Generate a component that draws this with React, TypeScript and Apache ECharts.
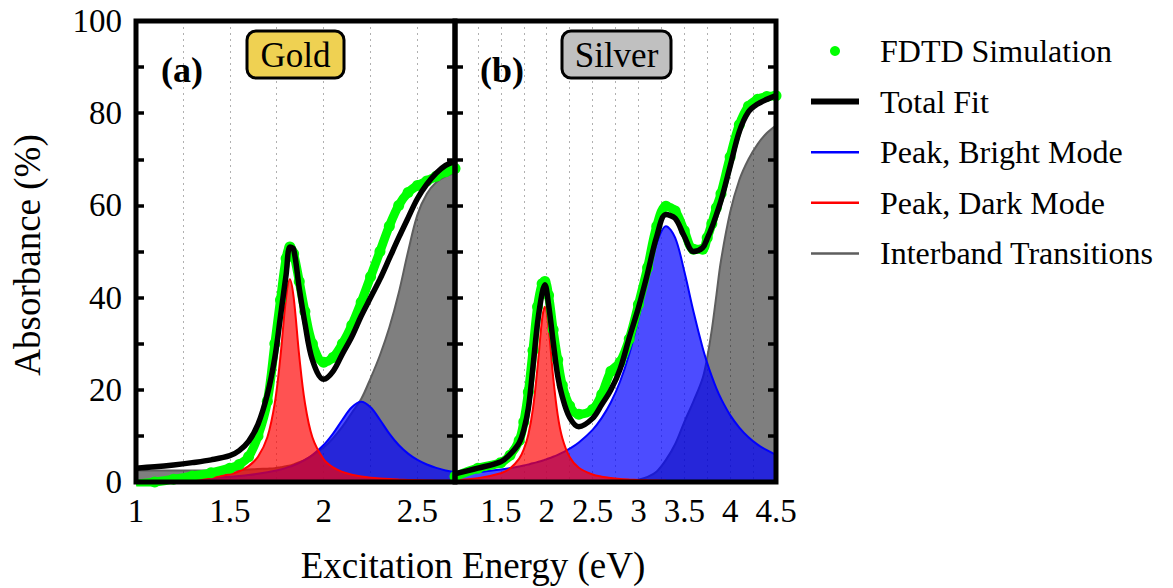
import React, { useEffect, useRef } from 'react';
import * as echarts from 'echarts';

// ---------- Panel (a): Gold ----------
const xA = [1.0, 1.1, 1.2, 1.3, 1.4, 1.5, 1.55, 1.6, 1.65, 1.7, 1.74, 1.77, 1.8, 1.82, 1.84, 1.87, 1.9, 1.94, 2.0, 2.05, 2.1, 2.15, 2.2, 2.25, 2.3, 2.35, 2.4, 2.45, 2.5, 2.55, 2.6, 2.65, 2.7];
const fdtdA = [-0.5, 0.0, 0.6, 1.3, 2.0, 3.0, 3.8, 5.5, 10, 17.5, 30, 39.5, 48.5, 51, 49.5, 43.5, 37, 30, 26, 27, 30, 34, 39, 44.5, 50, 55.5, 60, 62.8, 64.3, 65.3, 66.3, 67.3, 68];
const fitA = [3.0, 3.3, 3.7, 4.2, 4.8, 5.7, 6.8, 8.8, 12.5, 19, 27, 36, 45, 51, 50.5, 42, 34.5, 26.5, 22.3, 24, 27.8, 31.5, 36, 40, 44, 48.5, 53, 57.3, 61.5, 64.6, 67, 68.7, 69.5];
const brightA = [0.40, 0.48, 0.58, 0.70, 0.88, 1.14, 1.31, 1.51, 1.77, 2.10, 2.42, 2.72, 3.07, 3.33, 3.63, 4.16, 4.79, 5.85, 8.02, 10.5, 13.5, 16.2, 17.4, 16.2, 13.5, 10.5, 8.02, 6.16, 4.79, 3.80, 3.07, 2.51, 2.10];
const darkA = [0.27, 0.35, 0.46, 0.66, 1.0, 1.69, 2.34, 3.44, 5.46, 9.7, 17.2, 27.3, 40.1, 44, 40.1, 27.3, 17.2, 9.7, 4.94, 3.16, 2.19, 1.59, 1.21, 0.95, 0.77, 0.63, 0.53, 0.45, 0.39, 0.34, 0.29, 0.26, 0.23];
const interA = [2.5, 2.5, 2.5, 2.5, 2.5, 2.6, 2.6, 2.7, 2.8, 2.9, 3.0, 3.2, 3.4, 3.6, 3.8, 4.3, 4.8, 5.8, 7.5, 9.5, 12, 15, 18, 22.5, 27.5, 33.5, 41, 50, 58, 62.5, 65, 66.3, 67];

// ---------- Panel (b): Silver ----------
const xB = [1.0, 1.25, 1.5, 1.6, 1.7, 1.75, 1.8, 1.85, 1.9, 1.95, 1.98, 2.02, 2.07, 2.12, 2.17, 2.25, 2.35, 2.5, 2.6, 2.7, 2.8, 2.9, 3.0, 3.1, 3.2, 3.3, 3.4, 3.5, 3.6, 3.7, 3.75, 3.8, 3.85, 3.9, 4.0, 4.1, 4.2, 4.3, 4.4, 4.5];
const fdtdB = [1.2, 3.0, 4.2, 5.8, 9, 13, 19.5, 28.5, 38, 43, 43.5, 40.5, 33, 26.5, 21, 16.5, 14.7, 15.7, 19, 24, 26, 31, 38.5, 46.5, 55.5, 59.8, 58.8, 54.5, 50.5, 50.5, 53, 56, 59.5, 62.5, 70.5, 77.5, 81.5, 83, 83.6, 83.8];
const fitB = [1.8, 3.0, 4.4, 6.0, 8.5, 11.3, 16, 25, 34.5, 41, 42.8, 38.5, 30.5, 23, 18.5, 14, 12, 13.8, 16.8, 20, 24.5, 31.3, 37.8, 45.3, 53.3, 58, 57.2, 53.3, 50, 50.8, 52.8, 55.2, 58, 61, 68.5, 76, 80.3, 82, 83, 83.8];
const brightB = [1.70, 2.12, 2.71, 3.02, 3.38, 3.58, 3.81, 4.05, 4.33, 4.62, 4.82, 5.09, 5.47, 5.89, 6.36, 7.22, 8.56, 11.3, 13.9, 17.3, 21.8, 27.75, 35.3, 44.0, 51.8, 55.5, 53.0, 45.7, 37.0, 29.1, 25.8, 22.9, 20.3, 18.1, 14.5, 11.8, 9.7, 8.1, 6.9, 5.9];
const darkB = [0.47, 0.84, 1.90, 2.94, 5.08, 7.07, 10.3, 15.9, 24.9, 35.4, 38, 33.6, 22.8, 14.5, 9.54, 5.41, 3.09, 1.63, 1.16, 0.87, 0.67, 0.54, 0.44, 0.36, 0.31, 0.26, 0.23, 0.2, 0.18, 0.16, 0.15, 0.14, 0.135, 0.13, 0.11, 0.1, 0.09, 0.08, 0.08, 0.07];
const interB = [0, 0, 0, 0, 0, 0, 0, 0, 0, 0, 0, 0, 0, 0, 0, 0, 0, 0, 0, 0.05, 0.1, 0.2, 0.5, 1.1, 2.3, 4.8, 8.2, 13, 17.5, 22.5, 27, 33, 40.5, 48, 58.5, 65.5, 70, 73.3, 75.7, 77.3];

// ---------- Tick labels / names ----------
const xLabelsA = [1, 1.5, 2, 2.5];
const xLabelsB = [1.5, 2, 2.5, 3, 3.5, 4, 4.5];
const yLabels = [0, 20, 40, 60, 80, 100];
const seriesNames = ['FDTD Simulation', 'Total Fit', 'Peak, Bright Mode', 'Peak, Dark Mode', 'Interband Transitions'];

const FONT = 'Liberation Serif';
const G1 = { left: 136, top: 21, width: 319, height: 461 };
const G2 = { left: 455, top: 21, width: 321, height: 461 };

// legend line icons: a bar centred in a 48x10 box (tiny corner specks fix the box)
const lineIcon = (h: number) => {
  const a = (10 - h) / 2;
  const b = a + h;
  return `path://M0,0L0.01,0L0.01,0.01Z M0,${a}L48,${a}L48,${b}L0,${b}Z M47.99,9.99L48,9.99L48,10Z`;
};

const pairs = (xs: number[], ys: number[]) => xs.map((x, i) => [x, ys[i]]);
const inList = (list: number[], v: number) => list.some((t) => Math.abs(t - v) < 1e-6);

function panelSeries(gi: number, xs: number[], fd: number[], fit: number[], br: number[], dk: number[], it: number[]) {
  const common = { type: 'line', xAxisIndex: gi, yAxisIndex: gi * 2, smooth: 0.35, symbol: 'none' };
  return [
    { ...common, name: seriesNames[4], data: pairs(xs, it), z: 2, lineStyle: { color: '#5e5e5e', width: 2 }, itemStyle: { color: '#5e5e5e' }, areaStyle: { color: '#000000', opacity: 0.5 } },
    { ...common, name: seriesNames[2], data: pairs(xs, br), z: 3, lineStyle: { color: '#0000ff', width: 2 }, itemStyle: { color: '#0000ff' }, areaStyle: { color: '#0000ff', opacity: 0.7 } },
    { ...common, name: seriesNames[3], data: pairs(xs, dk), z: 4, lineStyle: { color: '#ff0000', width: 2 }, itemStyle: { color: '#ff0000' }, areaStyle: { color: '#ff0000', opacity: 0.68 } },
    { ...common, name: seriesNames[0], data: pairs(xs, fd), z: 5, symbol: 'circle', symbolSize: 11, showSymbol: true, lineStyle: { color: '#00ff00', width: 9 }, itemStyle: { color: '#00ff00' } },
    { ...common, name: seriesNames[1], data: pairs(xs, fit), z: 6, lineStyle: { color: '#000000', width: 5.5 }, itemStyle: { color: '#000000' } },
  ];
}

function xAxisFor(gi: number, max: number, labels: number[]) {
  return {
    type: 'value', gridIndex: gi, min: 1, max, interval: 0.25,
    axisLine: { show: false }, axisTick: { show: false },
    splitLine: { show: true, lineStyle: { color: '#b0b0b0', width: 1, type: [2, 4] } },
    axisLabel: {
      margin: 12, fontSize: 33, fontFamily: FONT, color: '#000',
      formatter: (v: number) => (inList(labels, v) ? String(v) : ''),
    },
  };
}

function yAxisFor(gi: number, position: string, showLabels: boolean) {
  return {
    type: 'value', gridIndex: gi, position, min: 0, max: 100, interval: 10,
    axisLine: { show: false },
    axisTick: { show: true, inside: true, length: 8, lineStyle: { color: '#000', width: 3.5 } },
    splitLine: { show: false },
    axisLabel: {
      show: showLabels, margin: 14, fontSize: 33, fontFamily: FONT, color: '#000',
      formatter: (v: number) => (inList(yLabels, v) ? String(v) : ''),
    },
  };
}

export default function App() {
  const ref = useRef<HTMLDivElement>(null);
  useEffect(() => {
    if (!ref.current) return;
    const chart = echarts.init(ref.current, null, { renderer: 'svg' });
    const option: any = {
      animation: false,
      backgroundColor: '#ffffff',
      textStyle: { fontFamily: FONT },
      grid: [
        { ...G1, containLabel: false },
        { ...G2, containLabel: false },
      ],
      xAxis: [xAxisFor(0, 2.7, xLabelsA), xAxisFor(1, 4.5, xLabelsB)],
      yAxis: [yAxisFor(0, 'left', true), yAxisFor(0, 'right', false), yAxisFor(1, 'left', false), yAxisFor(1, 'right', false)],
      legend: {
        orient: 'vertical', left: 806, top: 30, itemWidth: 48, itemHeight: 10, itemGap: 18.6,
        selectedMode: false,
        textStyle: { fontSize: 32, fontFamily: FONT, color: '#000', padding: [0, 0, 0, 16] },
        data: [
          { name: seriesNames[0], icon: 'circle' },
          { name: seriesNames[1], icon: lineIcon(6), itemStyle: { color: '#000000' } },
          { name: seriesNames[2], icon: lineIcon(2.5), itemStyle: { color: '#0000ff' } },
          { name: seriesNames[3], icon: lineIcon(2.5), itemStyle: { color: '#ff0000' } },
          { name: seriesNames[4], icon: lineIcon(2.5), itemStyle: { color: '#5e5e5e' } },
        ],
      },
      series: [
        ...panelSeries(0, xA, fdtdA, fitA, brightA, darkA, interA),
        ...panelSeries(1, xB, fdtdB, fitB, brightB, darkB, interB),
      ],
      graphic: [
        { type: 'rect', z: 100, shape: { x: G1.left, y: G1.top, width: G1.width, height: G1.height }, style: { fill: 'none', stroke: '#000', lineWidth: 5 } },
        { type: 'rect', z: 100, shape: { x: G2.left, y: G2.top, width: G2.width, height: G2.height }, style: { fill: 'none', stroke: '#000', lineWidth: 5 } },
        { type: 'text', z: 101, x: 161, y: 70, style: { text: '(a)', fontSize: 36, fontWeight: 'bold', fontFamily: FONT, fill: '#000', align: 'left', verticalAlign: 'middle' } },
        { type: 'text', z: 101, x: 480, y: 70, style: { text: '(b)', fontSize: 36, fontWeight: 'bold', fontFamily: FONT, fill: '#000', align: 'left', verticalAlign: 'middle' } },
        { type: 'rect', z: 101, shape: { x: 247, y: 31, width: 97, height: 47, r: 9 }, style: { fill: '#efd152', stroke: '#000', lineWidth: 3 } },
        { type: 'text', z: 102, x: 295.5, y: 55, style: { text: 'Gold', fontSize: 35, fontFamily: FONT, fill: '#000', align: 'center', verticalAlign: 'middle' } },
        { type: 'rect', z: 101, shape: { x: 562, y: 31, width: 109, height: 47, r: 9 }, style: { fill: '#c0c0c0', stroke: '#000', lineWidth: 3 } },
        { type: 'text', z: 102, x: 616.5, y: 55, style: { text: 'Silver', fontSize: 35, fontFamily: FONT, fill: '#000', align: 'center', verticalAlign: 'middle' } },
        { type: 'text', z: 101, x: 473, y: 565, style: { text: 'Excitation Energy (eV)', fontSize: 37, fontFamily: FONT, fill: '#000', align: 'center', verticalAlign: 'middle' } },
        { type: 'text', z: 101, x: 27, y: 255, rotation: Math.PI / 2, style: { text: 'Absorbance (%)', fontSize: 37, fontFamily: FONT, fill: '#000', align: 'center', verticalAlign: 'middle' } },
      ],
    };
    chart.setOption(option);
    return () => chart.dispose();
  }, []);
  return <div ref={ref} style={{ position: 'fixed', left: 0, top: 0, width: 1173, height: 588 }} />;
}
